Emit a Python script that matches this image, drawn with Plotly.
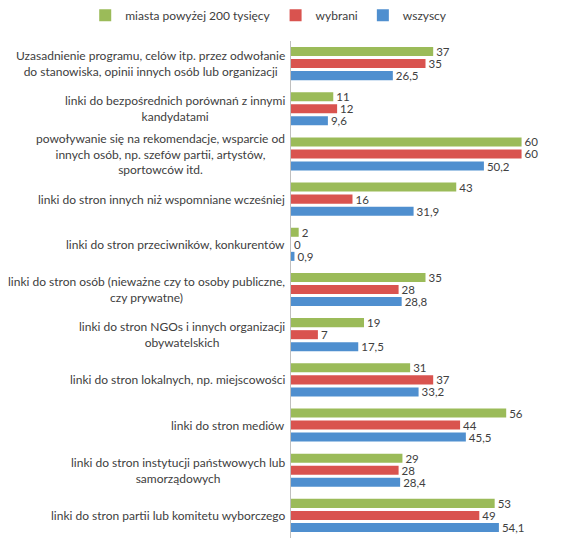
import plotly.graph_objects as go

categories = [
    "Uzasadnienie programu, celów itp. przez odwołanie<br>do stanowiska, opinii innych osób lub organizacji",
    "linki do bezpośrednich porównań z innymi<br>kandydatami",
    "powoływanie się na rekomendacje, wsparcie od<br>innych osób, np. szefów partii, artystów,<br>sportowców itd.",
    "linki do stron innych niż wspomniane wcześniej",
    "linki do stron przeciwników, konkurentów",
    "linki do stron osób (nieważne czy to osoby publiczne,<br>czy prywatne)",
    "linki do stron NGOs i innych organizacji<br>obywatelskich",
    "linki do stron lokalnych, np. miejscowości",
    "linki do stron mediów",
    "linki do stron instytucji państwowych lub<br>samorządowych",
    "linki do stron partii lub komitetu wyborczego",
]
series_names = ["miasta powyżej 200 tysięcy", "wybrani", "wszyscy"]
miasta = [37, 11, 60, 43, 2, 35, 19, 31, 56, 29, 53]
wybrani = [35, 12, 60, 16, 0, 28, 7, 37, 44, 28, 49]
wszyscy = [26.5, 9.6, 50.2, 31.9, 0.9, 28.8, 17.5, 33.2, 45.5, 28.4, 54.1]
colors = ["#9BBB59", "#D9534F", "#4F8FCF"]

def fmt(v):
    return ("%g" % v).replace(".", ",")

FONT = "Lato, sans-serif"
fig = go.Figure()
for name, vals, col in zip(series_names, [miasta, wybrani, wszyscy], colors):
    fig.add_trace(go.Bar(
        y=list(range(len(categories))), x=vals, name=name, orientation="h",
        marker=dict(color=col, line=dict(width=0)),
        text=[fmt(v) for v in vals], textposition="outside", cliponaxis=False,
        constraintext="none",
        textfont=dict(family=FONT, size=11.5, color="#404040"),
    ))

for i, c in enumerate(categories):
    fig.add_annotation(
        x=0, y=i, xref="paper", yref="y", text=c, showarrow=False,
        xanchor="right", yanchor="middle", align="center", xshift=-4,
        font=dict(family=FONT, size=12, color="#404040"),
    )

fig.update_layout(
    width=566, height=542,
    margin=dict(l=283, r=14, t=33, b=12, autoexpand=False),
    paper_bgcolor="white", plot_bgcolor="white",
    barmode="group", bargap=0.2, bargroupgap=0.25,
    font=dict(family=FONT, size=12, color="#404040"),
    showlegend=True,
    legend=dict(orientation="h", x=-0.765, xanchor="left", y=1.052,
                yanchor="middle", font=dict(size=12, color="#404040"), traceorder="normal",
                itemwidth=30),
    xaxis=dict(range=[0, 70], showgrid=False, zeroline=False, showticklabels=False, showline=False),
    yaxis=dict(autorange="reversed", showticklabels=False, showgrid=False, zeroline=False,
               showline=True, linecolor="#BFBFBF", linewidth=1, ticks=""),
)
fig.write_html("out.html")
